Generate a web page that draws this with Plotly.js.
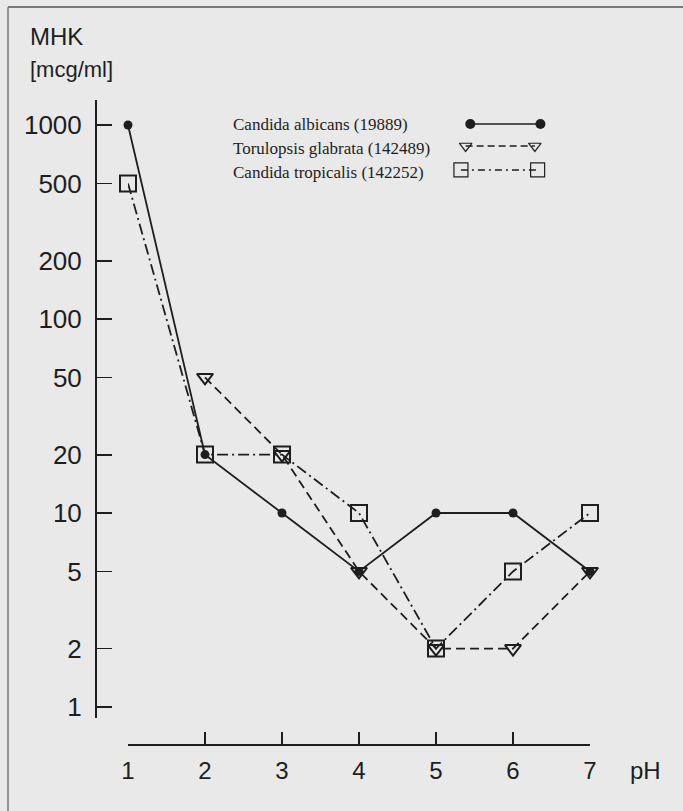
<!DOCTYPE html>
<html>
<head>
<meta charset="utf-8">
<script src="https://cdn.plot.ly/plotly-3.0.1.min.js"></script>
<style>
html,body{margin:0;padding:0;background:#e9e9e9;}
#chart{width:683px;height:811px;}
</style>
</head>
<body>
<div id="chart"></div>
<script>
// pH values
const pH = [1, 2, 3, 4, 5, 6, 7];
// MHK [mcg/ml]
const albicans = [1000, 20, 10, 5, 10, 10, 5];
const glabrata = [null, 50, 20, 5, 2, 2, 5];
const tropicalis = [500, 20, 20, 10, 2, 5, 10];
const seriesNames = ["Candida albicans (19889)", "Torulopsis glabrata (142489)", "Candida tropicalis (142252)"];
const yTickVals = [1, 2, 5, 10, 20, 50, 100, 200, 500, 1000];
const yTickText = ["1", "2", "5", "10", "20", "50", "100", "200", "500", "1000"];
const xTickText = ["1", "2", "3", "4", "5", "6", "7"];

const ink = '#1e1e1e';
const W = 683, H = 811;
const mL = 96, mR = 683 - 590, mT = 100, mB = 811 - 745;
const plotW = W - mL - mR, plotH = H - mT - mB;
const px = v => (v - mL) / plotW;
const py = v => (H - mB - v) / plotH;

const dashGl = '9px,5px';
const dashTr = '11px,4px,2px,4px';
const sans = 'Liberation Sans, Arial, sans-serif';

const traces = [
  {x: pH, y: tropicalis, name: seriesNames[2], mode: 'lines+markers', cliponaxis: false,
   line: {color: ink, width: 1.8, dash: dashTr},
   marker: {symbol: 'square-open', size: 16, color: ink, line: {width: 2, color: ink}}},
  {x: pH, y: glabrata, name: seriesNames[1], mode: 'lines+markers', cliponaxis: false, connectgaps: false,
   line: {color: ink, width: 1.8, dash: dashGl},
   marker: {symbol: 'triangle-down-open', size: 14, color: ink, line: {width: 2, color: ink}}},
  {x: pH, y: albicans, name: seriesNames[0], mode: 'lines+markers', cliponaxis: false,
   line: {color: ink, width: 1.8},
   marker: {symbol: 'circle', size: 9, color: ink}},
  // legend samples (paper-like overlay axes)
  {x: [px(462), px(537)], y: [py(125), py(125)], xaxis: 'x2', yaxis: 'y2', mode: 'lines+markers', cliponaxis: false,
   line: {color: ink, width: 1.4}, marker: {symbol: 'circle', size: 10, color: ink}, hoverinfo: 'skip'},
  {x: [px(457), px(531)], y: [py(148), py(148)], xaxis: 'x2', yaxis: 'y2', mode: 'lines+markers', cliponaxis: false,
   line: {color: ink, width: 1.4, dash: '7px,4px'}, marker: {symbol: 'triangle-down-open', size: 11, color: ink, line: {width: 1.2, color: ink}}, hoverinfo: 'skip'},
  {x: [px(452), px(534)], y: [py(173), py(173)], xaxis: 'x2', yaxis: 'y2', mode: 'lines+markers', cliponaxis: false,
   line: {color: ink, width: 1.4, dash: '7px,4px,2px,4px'}, marker: {symbol: 'square-open', size: 14, color: ink, line: {width: 1.2, color: ink}}, hoverinfo: 'skip'}
];

const legendText = [
  {t: seriesNames[0], y: 125},
  {t: seriesNames[1], y: 148},
  {t: seriesNames[2], y: 172}
];

const annotations = [
  {text: 'MHK', xref: 'paper', yref: 'paper', x: px(28), y: py(37), xanchor: 'left', yanchor: 'middle', showarrow: false,
   font: {family: sans, size: 24, color: ink}},
  {text: '[mcg/ml]', xref: 'paper', yref: 'paper', x: px(28), y: py(70), xanchor: 'left', yanchor: 'middle', showarrow: false,
   font: {family: sans, size: 22, color: ink}},
  {text: 'pH', xref: 'paper', yref: 'paper', x: px(628), y: py(770), xanchor: 'left', yanchor: 'middle', showarrow: false,
   font: {family: sans, size: 24, color: ink}}
].concat(legendText.map(o => ({
  text: o.t, xref: 'paper', yref: 'paper', x: px(231), y: py(o.y), xanchor: 'left', yanchor: 'middle', showarrow: false,
  font: {family: 'Liberation Serif, Times New Roman, serif', size: 17, color: ink}
})));

const layout = {
  width: W, height: H,
  margin: {l: mL, r: mR, t: mT, b: mB, pad: 0},
  paper_bgcolor: '#e9e9e9', plot_bgcolor: 'rgba(0,0,0,0)',
  showlegend: false,
  xaxis: {
    domain: [px(128), 1], range: [1, 7], anchor: 'free', position: 0,
    tickvals: pH, ticktext: xTickText, ticks: 'inside', ticklen: 12, tickwidth: 1.8, tickcolor: ink,
    showline: true, linecolor: ink, linewidth: 2, showgrid: false, zeroline: false,
    ticklabelstandoff: 4,
    tickfont: {family: sans, size: 24, color: ink}
  },
  yaxis: {
    type: 'log', domain: [py(718), 1], range: [-0.0567, 3.129], anchor: 'free', position: 0,
    tickvals: yTickVals, ticktext: yTickText, ticks: 'inside', ticklen: 15, tickwidth: 1.8, tickcolor: ink,
    showline: true, linecolor: ink, linewidth: 2, showgrid: false, zeroline: false,
    ticklabelstandoff: 8,
    tickfont: {family: sans, size: 26, color: ink}
  },
  xaxis2: {overlaying: 'x', range: [0, 1], visible: false, domain: [0, 1], anchor: 'y2'},
  yaxis2: {overlaying: 'y', range: [0, 1], visible: false, domain: [0, 1], anchor: 'x2'},
  annotations: annotations,
  shapes: [
    {type: 'line', xref: 'paper', yref: 'paper', x0: px(8), x1: px(683), y0: py(7), y1: py(7), line: {color: '#555', width: 1.5}},
    {type: 'line', xref: 'paper', yref: 'paper', x0: px(8), x1: px(8), y0: py(7), y1: py(811), line: {color: '#777', width: 1.5}}
  ]
};

Plotly.newPlot('chart', traces, layout, {displayModeBar: false, staticPlot: true});
</script>
</body>
</html>
